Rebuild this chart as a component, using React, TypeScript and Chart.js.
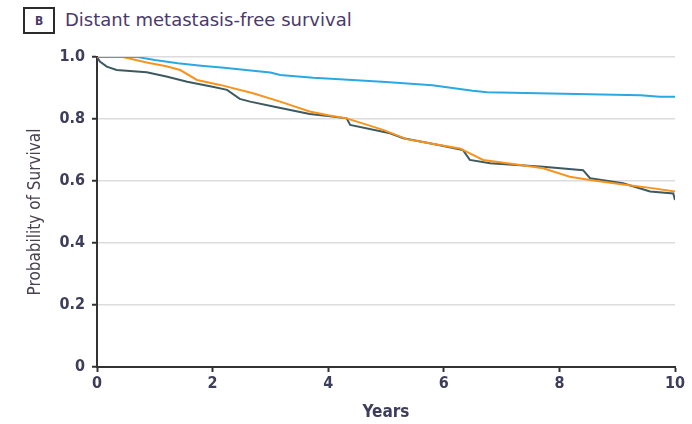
import React, { useEffect, useRef } from "react";
import { Chart, registerables } from "chart.js";

Chart.register(...registerables);

const blueT = [0, 0.7, 1.0, 1.4, 1.8, 2.2, 2.7, 3.0, 3.17, 3.74, 4.2, 5.0, 5.8, 6.5, 6.75, 9.4, 9.74, 10];
const blueS = [1.0, 1.0, 0.99, 0.98, 0.972, 0.965, 0.956, 0.95, 0.942, 0.933, 0.928, 0.919, 0.909, 0.891, 0.886, 0.877, 0.872, 0.872];

const orangeT = [0, 0.45, 0.86, 1.2, 1.44, 1.73, 2.13, 2.7, 3.17, 3.68, 4.0, 4.32, 4.95, 5.36, 5.8, 6.28, 6.68, 7.2, 7.72, 8.18, 8.53, 9.17, 9.6, 10];
const orangeS = [1.0, 1.0, 0.982, 0.97, 0.958, 0.926, 0.91, 0.883, 0.856, 0.824, 0.812, 0.802, 0.765, 0.735, 0.72, 0.705, 0.668, 0.655, 0.641, 0.614, 0.603, 0.587, 0.577, 0.566];

const darkT = [0, 0.05, 0.17, 0.34, 0.86, 1.2, 1.56, 2.0, 2.25, 2.47, 2.65, 3.05, 3.68, 4.0, 4.32, 4.38, 5.07, 5.3, 5.8, 6.33, 6.45, 6.8, 7.72, 8.41, 8.53, 9.1, 9.57, 9.97, 10];
const darkS = [1.0, 0.985, 0.969, 0.958, 0.951, 0.937, 0.92, 0.904, 0.894, 0.865, 0.856, 0.84, 0.816, 0.81, 0.802, 0.781, 0.754, 0.738, 0.72, 0.7, 0.668, 0.657, 0.646, 0.635, 0.609, 0.593, 0.566, 0.56, 0.539];

const xTicks = [0, 2, 4, 6, 8, 10];
const yTicks = [0, 0.2, 0.4, 0.6, 0.8, 1.0];

const TEXT = "#3d3d5c";
const FONT = "'DejaVu Sans Condensed', 'Liberation Sans Narrow', 'DejaVu Sans', sans-serif";
const TITLE_FONT = "'DejaVu Sans', sans-serif";

function pts(t: number[], s: number[]) {
  return t.map((x, i) => ({ x, y: s[i] }));
}

export default function App() {
  const ref = useRef<HTMLCanvasElement | null>(null);
  useEffect(() => {
    if (!ref.current) return;
    const chart = new Chart(ref.current, {
      type: "line",
      data: {
        datasets: [
          { label: "A", data: pts(blueT, blueS), borderColor: "#2aa8e2", borderWidth: 2, pointRadius: 0 },
          { label: "B", data: pts(orangeT, orangeS), borderColor: "#f7941d", borderWidth: 2, pointRadius: 0 },
          { label: "C", data: pts(darkT, darkS), borderColor: "#3e5a60", borderWidth: 2, pointRadius: 0 },
        ],
      },
      options: {
        animation: false,
        responsive: false,
        maintainAspectRatio: false,
        layout: { padding: { top: 57, right: 17, left: 20, bottom: 1 } },
        plugins: { legend: { display: false }, tooltip: { enabled: false } },
        scales: {
          x: {
            type: "linear",
            min: 0,
            max: 10,
            afterBuildTicks: (s: any) => { s.ticks = xTicks.map((v) => ({ value: v })); },
            afterFit: (s: any) => { s.height = 424 - 367 - 1; },
            grid: { drawOnChartArea: false, tickLength: 5, tickWidth: 2, tickColor: "#333", color: "#333" },
            border: { color: "#333", width: 2 },
            ticks: { color: TEXT, font: { family: FONT, size: 16, weight: "bold" }, padding: 2, maxRotation: 0 },
            title: { display: true, text: "Years", color: TEXT, font: { family: FONT, size: 17, weight: "bold" }, padding: { top: 0, bottom: 0 } },
          },
          y: {
            type: "linear",
            min: 0,
            max: 1,
            afterBuildTicks: (s: any) => { s.ticks = yTicks.map((v) => ({ value: v })); },
            afterFit: (s: any) => { s.width = 97 - 20; },
            grid: { color: "#dcdcdc", lineWidth: 1.5, tickLength: 5, tickWidth: 2, tickColor: "#333" },
            border: { color: "#333", width: 2 },
            ticks: {
              color: TEXT,
              font: { family: FONT, size: 16, weight: "bold" },
              padding: 7,
              callback: (v: any) => (Number(v) === 0 ? "0" : Number(v).toFixed(1)),
            },
            title: { display: true, text: "Probability of Survival", color: "#4a4050", font: { family: FONT, size: 17 }, padding: { top: 5, bottom: 0 } },
          },
        },
      },
    });
    return () => chart.destroy();
  }, []);

  return (
    <div style={{ position: "absolute", left: 0, top: 0, width: 692, height: 424, background: "#fff" }}>
      <div
        style={{
          position: "absolute", left: 23, top: 7, width: 28, height: 23, border: "2px solid #2b2b2b",
          fontFamily: FONT, fontWeight: "bold", fontSize: 12, color: "#4a3a6a",
          display: "flex", alignItems: "center", justifyContent: "center", lineHeight: 1,
        }}
      >
        B
      </div>
      <div
        style={{
          position: "absolute", left: 65, top: 6, height: 28, lineHeight: "28px",
          fontFamily: TITLE_FONT, fontSize: 18, color: "#4a3a6a", whiteSpace: "nowrap",
        }}
      >
        Distant metastasis-free survival
      </div>
      <canvas ref={ref} width={692} height={424} style={{ position: "absolute", left: 0, top: 0, width: 692, height: 424 }} />
    </div>
  );
}
